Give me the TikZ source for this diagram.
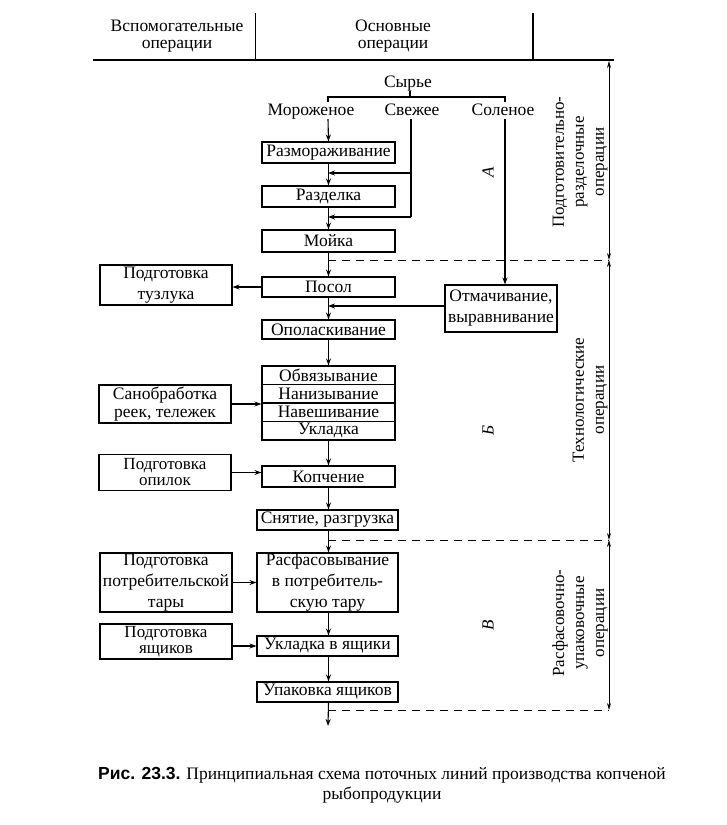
\documentclass[tikz,border=0pt]{standalone}
\usepackage{fontspec}
\setmainfont{Liberation Serif}
\newfontfamily\capsans{Liberation Sans}
\usetikzlibrary{arrows.meta}
\begin{document}
\begin{tikzpicture}[x=1pt,y=-1pt,
  font=\fontsize{17.5}{17.5}\selectfont,
  box/.style={draw,line width=1.1pt,inner sep=0pt,align=center},
  mainbox/.style={box,minimum width=133pt},
  widebox/.style={box,minimum width=141pt},
  auxbox/.style={box,minimum width=132pt},
  tall/.style={font=\fontsize{17.5}{21}\selectfont},
  tight/.style={font=\fontsize{17}{16}\selectfont},
  ln/.style={line width=1.1pt},
  arr/.style={ln,-{Stealth[length=7pt,width=5pt]}},
  dim/.style={line width=0.8pt,{Stealth[length=7pt,width=4pt]}-{Stealth[length=7pt,width=4pt]}},
  dsh/.style={line width=1pt,dash pattern=on 8pt off 6pt},
  lbl/.style={inner sep=0pt,align=center},
  src/.style={inner sep=0pt,anchor=base},
  side/.style={inner sep=0pt,align=center,rotate=90,font=\fontsize{17}{20}\selectfont},
  letter/.style={inner sep=0pt,rotate=90,font=\fontsize{17}{20}\selectfont\itshape}]
\useasboundingbox (0,0) rectangle (727,825);
% header
\coordinate (hl) at (93,60); \coordinate (hr) at (614,60);
\draw[ln] (hl) -- (hr);
\coordinate (v1t) at (255,13); \coordinate (v1b) at (255,60);
\coordinate (v2t) at (533,13); \coordinate (v2b) at (533,60);
\draw[line width=0.8pt] (v1t) -- (v1b);
\draw[line width=1.1pt] (v2t) -- (v2b);
\node[lbl] (h1) at (177,36) {Вспомогательные\\операции};
\node[lbl] (h2) at (393,36) {Основные\\операции};
% raw material
\node[src] (syr) at (408,87) {Сырье};
\node[src] (mor) at (311,115) {Мороженое};
\node[src] (sve) at (412,115) {Свежее};
\node[src] (sol) at (503,115) {Соленое};
\coordinate (bL) at (328,97); \coordinate (bC) at (410,97); \coordinate (bR) at (505,97);
\draw[ln] (328,102) -- (bL) -- (bR) -- (505,102);
\draw[ln] (bC) -- (410,91);
% main boxes
\node[mainbox,minimum height=21pt] (raz) at (328.5,152.5) {Размораживание};
\node[mainbox,minimum height=21pt] (razd) at (328.5,196.5) {Разделка};
\node[mainbox,minimum height=22pt] (moy) at (328.5,241) {Мойка};
\node[mainbox,minimum height=20pt] (pos) at (328.5,287) {Посол};
\node[mainbox,minimum height=19pt] (opo) at (328.5,329.5) {Ополаскивание};
\node[mainbox,minimum height=18.5pt] (s1) at (328.5,375.25) {Обвязывание};
\node[mainbox,minimum height=18.5pt] (s2) at (328.5,393.75) {Нанизывание};
\node[mainbox,minimum height=18.5pt] (s3) at (328.5,412.25) {Навешивание};
\node[mainbox,minimum height=18.5pt] (s4) at (328.5,430.75) {Укладка};
\node[mainbox,minimum height=21pt] (kop) at (328.5,476.5) {Копчение};
\node[widebox,minimum height=20pt] (sny) at (327.5,520) {Снятие, разгрузка};
\node[widebox,tall,minimum height=59pt] (ras) at (327.5,582.5) {Расфасовывание\\в потребитель-\\скую тару};
\node[widebox,minimum height=20pt] (ukl) at (327.5,646) {Укладка в ящики};
\node[widebox,minimum height=20pt] (upa) at (327.5,692) {Упаковка ящиков};
% aux boxes
\node[auxbox,tall,minimum height=40pt] (tuz) at (166,285) {Подготовка\\тузлука};
\node[auxbox,minimum height=38pt] (san) at (165,404) {Санобработка\\реек, тележек};
\node[auxbox,tight,minimum height=36pt] (opi) at (165,472.5) {Подготовка\\опилок};
\node[auxbox,tall,minimum height=59pt] (tar) at (166,582.5) {Подготовка\\потребительской\\тары};
\node[auxbox,tight,minimum height=35pt] (yas) at (166,641.5) {Подготовка\\ящиков};
\node[box,tall,minimum width=112pt,minimum height=47pt] (otm) at (501,308.5) {Отмачивание,\\выравнивание};
% main flow
\coordinate (mtop) at (328,119);
\draw[arr] (mtop) -- (raz.north);
\draw[arr] (raz) -- (razd);
\draw[arr] (razd) -- (moy);
\draw[arr] (moy) -- (pos);
\draw[arr] (pos) -- (opo);
\draw[arr] (opo) -- (s1);
\draw[arr] (s4) -- (kop);
\draw[arr] (kop.south) -- (kop.south |- sny.north);
\draw[arr] (sny.south -| kop.south) -- (kop.south |- ras.north);
\draw[arr] (ras.south -| kop.south) -- (kop.south |- ukl.north);
\draw[arr] (ukl.south -| kop.south) -- (kop.south |- upa.north);
\coordinate (endp) at (328,726);
\draw[arr] (upa.south -| kop.south) -- (endp);
% fresh branch
\coordinate (f0) at (411,119); \coordinate (f1) at (411,173); \coordinate (f2) at (411,217);
\coordinate (m1) at (328,173); \coordinate (m2) at (328,217);
\draw[ln] (f0) -- (f2);
\draw[arr] (f1) -- (m1);
\draw[arr] (f2) -- (m2);
% salted branch
\coordinate (s0) at (505,119);
\draw[arr] (s0) -- (s0 |- otm.north);
\coordinate (om) at (328,306);
\draw[arr] (otm.west |- om) -- (om);
% aux arrows
\draw[arr] (pos.west) -- (tuz.east |- pos.west);
\draw[arr] (san.east) -- (san.east -| s2.west);
\draw[arr] (opi.east) -- (opi.east -| kop.west);
\draw[arr] (tar.east) -- (ras.west);
\draw[arr] (yas.east |- ukl.west) -- (ukl.west);
% dashed separators
\coordinate (d1a) at (328,260); \coordinate (d1b) at (609,260);
\coordinate (d2a) at (328,540); \coordinate (d2b) at (609,540);
\coordinate (d3a) at (328,710); \coordinate (d3b) at (609,710);
\draw[dsh] (d1a) -- (d1b);
\draw[dsh] (d2a) -- (d2b);
\draw[dsh] (d3a) -- (d3b);
% dimension lines
\coordinate (r0) at (609,61);
\draw[dim] (r0) -- (d1b);
\draw[dim] (d1b) -- (d2b);
\draw[dim] (d2b) -- (d3b);
% side labels
\node[side] (L1) at (580,162) {Подготовительно-\\разделочные\\операции};
\node[side] (L2) at (590,400) {Технологические\\операции};
\node[side] (L3) at (580,623) {Расфасовочно-\\упаковочные\\операции};
\node[letter] (la) at (488,172) {А};
\node[letter] (lb) at (488,430) {Б};
\node[letter] (lv) at (488,625) {В};
% caption
\node[lbl,font=\fontsize{17.5}{20}\selectfont] (cap) at (382,785) {{\capsans\bfseries Рис. 23.3.} Принципиальная схема поточных линий производства копченой\\рыбопродукции};
\end{tikzpicture}
\end{document}
